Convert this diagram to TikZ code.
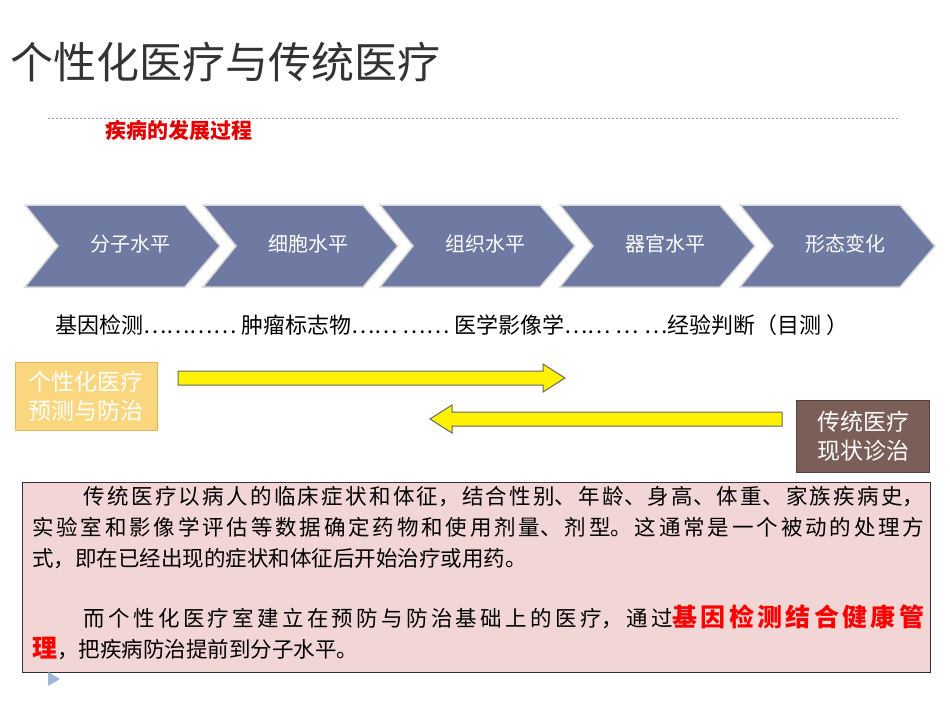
\documentclass[tikz,border=0pt]{standalone}
\usepackage{fontspec}
\setmainfont{Noto Sans CJK SC}
\XeTeXlinebreaklocale "zh"
\XeTeXlinebreakskip=0pt plus 1pt
\usetikzlibrary{shapes.arrows}
\definecolor{chev}{HTML}{6F7AA3}
\definecolor{ybox}{HTML}{FAD67F}
\definecolor{yline}{HTML}{E6B35A}
\definecolor{brownbox}{HTML}{7B5E57}
\definecolor{pinkbox}{HTML}{F2D5D5}
\definecolor{tri}{HTML}{9DB7D6}
\tikzset{
 chevtxt/.style={text=white,font=\fontsize{20}{24}\selectfont},
 chevshape/.style={fill=chev,draw=white!85!black,line width=1.5pt},
 yarrow/.style={fill=yellow,draw=black!60,line width=1pt},
 lbl/.style={font=\fontsize{22}{24}\selectfont,anchor=west}
}
\begin{document}
\begin{tikzpicture}[x=1pt,y=-1pt]
\useasboundingbox (0,0) rectangle (950,713);
\node[anchor=west,font=\fontsize{43}{48}\selectfont,text=black!80,inner sep=0pt] (title) at (10,62) {个性化医疗与传统医疗};
\draw[dash pattern=on 2pt off 2pt,black!40] (48,118) coordinate (d1) -- (900,118) coordinate (d2);
\node[anchor=west,text=red!90!black,font=\bfseries\fontsize{21}{24}\selectfont,inner sep=0pt] (sub) at (105,131) {疾病的发展过程};
\foreach \x/\t [count=\i] in {25/分子水平,203/细胞水平,380/组织水平,560/器官水平,740/形态变化}{
 \draw[chevshape] (\x,205) -- (\x+160,205) -- (\x+195,246) -- (\x+160,287) -- (\x,287) -- (\x+33,246) -- cycle;
 \node[chevtxt] (c\i) at (\x+105,244) {\t};
}
\node[lbl,inner sep=0pt] (l1) at (55,325) {基因检测………… 肿瘤标志物…… …… 医学影像学…… … …经验判断（目测 ）};
\node[fill=ybox,draw=yline,line width=1pt,minimum width=142,minimum height=68,text=white,font=\fontsize{23}{29}\selectfont,align=center,inner sep=0pt] (pbox) at (86,396) {个性化医疗\\预测与防治};
\node[fill=brownbox,draw=brownbox!70!black,minimum width=133,minimum height=72,text=white,font=\fontsize{23}{29}\selectfont,align=center,inner sep=0pt] (tbox) at (863,436) {传统医疗\\现状诊治};
\draw[yarrow] (178,371) -- (543,371) -- (543,364) -- (565,378) -- (543,392) -- (543,385) -- (178,385) -- cycle;
\draw[yarrow] (782,412) -- (452,412) -- (452,405) -- (430,419) -- (452,433) -- (452,426) -- (782,426) -- cycle;
\node[fill=pinkbox,draw=black!80,line width=0.8pt,minimum width=908,minimum height=190,anchor=north west,inner sep=0pt] (bbox) at (22,482) {};
\node[anchor=north west,text width=892,font=\fontsize{21.5}{31}\selectfont,align=justify,inner sep=0pt] (btxt) at (32,486) {\hspace*{2.4em}传统医疗以病人的临床症状和体征，结合性别、年龄、身高、体重、家族疾病史，\linebreak 实验室和影像学评估等数据确定药物和使用剂量、剂型。这通常是一个被动的处理方\linebreak 式，即在已经出现的症状和体征后开始治疗或用药。\par\vspace{29pt}
\hspace*{2.4em}而个性化医疗室建立在预防与防治基础上的医疗，通过{\color{red}\bfseries\fontsize{25}{31}\selectfont 基因检测结合健康管\linebreak 理}，把疾病防治提前到分子水平。};
\fill[tri] (48,672) -- (60,679) -- (48,686) -- cycle;
\end{tikzpicture}
\end{document}
